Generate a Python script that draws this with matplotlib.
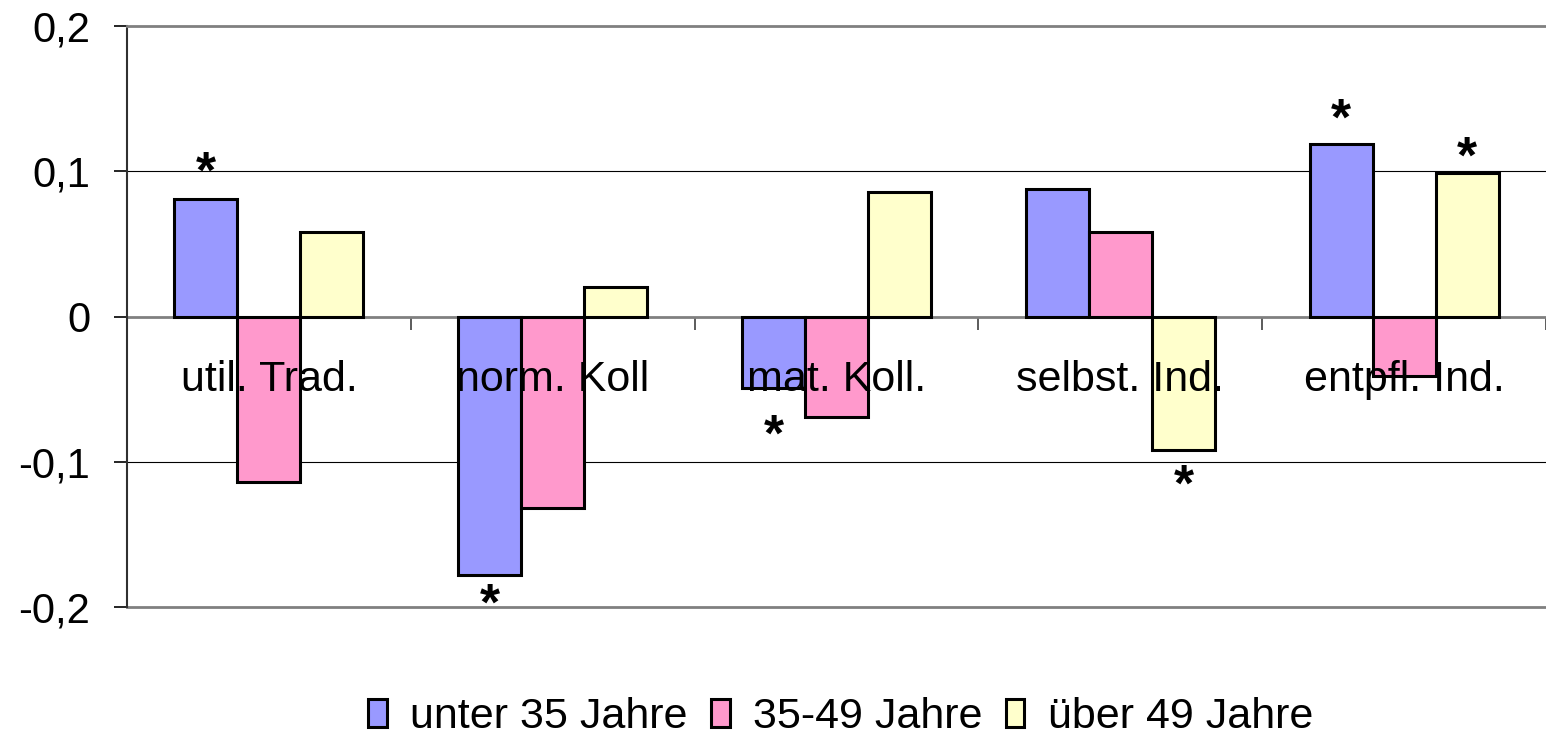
import numpy as np
import matplotlib.pyplot as plt

plt.rcParams['font.family'] = ['Liberation Sans', 'DejaVu Sans']

categories = ["util. Trad.", "norm. Koll", "mat. Koll.", "selbst. Ind.", "entpfl. Ind."]
series = ["unter 35 Jahre", "35-49 Jahre", "über 49 Jahre"]
unter35 = [0.081, -0.178, -0.049, 0.088, 0.119]
mitte = [-0.114, -0.132, -0.069, 0.058, -0.041]
ueber49 = [0.058, 0.020, 0.086, -0.092, 0.099]
colors = ["#9999FF", "#FF99CC", "#FFFFCC"]
ytick_vals = [-0.2, -0.1, 0, 0.1, 0.2]
ytick_labels = ["-0,2", "-0,1", "0", "0,1", "0,2"]

# significance stars: (category, series, offset of star centre from bar end in px)
stars = [(0, 0, 34), (1, 0, -21), (2, 0, -40), (3, 2, -27), (4, 0, 32), (4, 2, 23)]

FS = 31
SFS = 37
fig = plt.figure(figsize=(15.46, 7.37), dpi=100)
ax = fig.add_axes([127 / 1546, 1 - 607 / 737, 1 - 127 / 1546, (607 - 26) / 737])

values = [unter35, mitte, ueber49]
x = np.arange(len(categories))
w = 1 / 4.5
for i, (vals, name, c) in enumerate(zip(values, series, colors)):
    ax.bar(x + (i - 1) * w, vals, w, color=c, edgecolor="black", linewidth=2.2,
           label=name, zorder=3)

ax.set_xlim(-0.5, len(categories) - 0.5)
ax.set_ylim(-0.2, 0.2)

# gridlines and plot area border
for g in [-0.1, 0.1]:
    ax.axhline(g, color="black", lw=0.8, zorder=1)
ax.axhline(-0.2, color="#808080", lw=2, zorder=1, clip_on=False)

ax.spines["top"].set_color("#808080")
ax.spines["top"].set_linewidth(2)
ax.spines["right"].set_visible(False)
ax.spines["left"].set_color("#303030")
ax.spines["left"].set_linewidth(1.5)
ax.spines["bottom"].set_position(("data", 0))
ax.spines["bottom"].set_color("#808080")
ax.spines["bottom"].set_linewidth(2)
ax.spines["bottom"].set_zorder(2)

ax.set_xticks(np.arange(-0.5, len(categories), 1.0))
ax.set_xticklabels([])
ax.tick_params(axis="x", direction="out", length=9.5, width=1.2, color="#404040")

ax.set_yticks(ytick_vals)
ax.set_yticklabels(ytick_labels, fontsize=30)
ax.tick_params(axis="y", direction="out", length=9.5, width=1.2, pad=17)

for i, cat in enumerate(categories):
    ax.annotate(cat, xy=(i, 0), xytext=(0, -45.5), textcoords="offset points",
                ha="center", va="center", fontsize=FS, zorder=5)

for ci, si, off in stars:
    ax.annotate("*", xy=(ci + (si - 1) * w, values[si][ci]),
                xytext=(0, off * 0.72 - 0.45 * SFS), textcoords="offset points",
                ha="center", va="baseline", fontsize=SFS, fontweight="bold", zorder=5)

ax.legend(loc="center", bbox_to_anchor=(841 / 1546, 0.027), bbox_transform=fig.transFigure,
          ncol=3, frameon=False, fontsize=FS, handlelength=0.42, handleheight=0.6,
          handletextpad=0.55, columnspacing=0.55, borderaxespad=0)

fig.savefig("out.png", dpi=100)
